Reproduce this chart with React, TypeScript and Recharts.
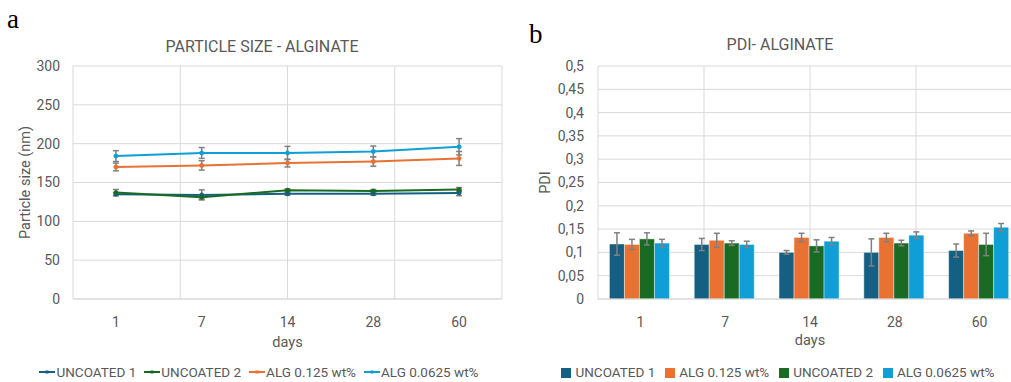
import React from "react";
import {
  LineChart,
  Line,
  BarChart,
  Bar,
  XAxis,
  YAxis,
  CartesianGrid,
  Legend,
  ErrorBar,
  Label,
} from "recharts";

// sampling days (shared by both panels)
const days = ["1", "7", "14", "28", "60"];

// panel a: particle size (nm) with +/- error
const uncoated1Size = [135, 134, 135.5, 135.5, 136.5];
const uncoated1SizeErr = [2, 6.5, 2, 2, 3.5];
const uncoated2Size = [137, 131, 140, 139, 141];
const uncoated2SizeErr = [4, 2.5, 2, 2, 2.5];
const alg125Size = [170, 172, 175, 177, 181];
const alg125SizeErr = [5, 6, 5, 6, 9];
const alg0625Size = [184, 188, 188, 190, 196];
const alg0625SizeErr = [7, 7, 8.5, 7, 10.5];

// panel b: PDI with +/- error
const uncoated1Pdi = [0.118, 0.117, 0.1, 0.1, 0.104];
const uncoated1PdiErr = [0.024, 0.013, 0.004, 0.029, 0.014];
const alg125Pdi = [0.117, 0.126, 0.132, 0.132, 0.141];
const alg125PdiErr = [0.011, 0.015, 0.009, 0.009, 0.005];
const uncoated2Pdi = [0.129, 0.12, 0.114, 0.12, 0.117];
const uncoated2PdiErr = [0.013, 0.005, 0.013, 0.006, 0.024];
const alg0625Pdi = [0.12, 0.117, 0.124, 0.137, 0.154];
const alg0625PdiErr = [0.008, 0.007, 0.008, 0.007, 0.008];

const sizeTicks = [0, 50, 100, 150, 200, 250, 300];
const pdiTicks = [0, 0.05, 0.1, 0.15, 0.2, 0.25, 0.3, 0.35, 0.4, 0.45, 0.5];

// legend order of each panel
const sizeOrder = ["UNCOATED 1", "UNCOATED 2", "ALG 0.125 wt%", "ALG 0.0625 wt%"];
const pdiOrder = ["UNCOATED 1", "ALG 0.125 wt%", "UNCOATED 2", "ALG 0.0625 wt%"];

const C_U1 = "#156082";
const C_U2 = "#196B24";
const C_A125 = "#E97132";
const C_A0625 = "#0F9ED5";
const GRID = "#d9d9d9";
const TEXT = "#595959";
const ERR = "#808080";

const sizeData = days.map((day, i) => ({
  day,
  u1: uncoated1Size[i],
  u1e: uncoated1SizeErr[i],
  u2: uncoated2Size[i],
  u2e: uncoated2SizeErr[i],
  a125: alg125Size[i],
  a125e: alg125SizeErr[i],
  a0625: alg0625Size[i],
  a0625e: alg0625SizeErr[i],
}));

const pdiData = days.map((day, i) => ({
  day,
  u1: uncoated1Pdi[i],
  u1e: uncoated1PdiErr[i],
  a125: alg125Pdi[i],
  a125e: alg125PdiErr[i],
  u2: uncoated2Pdi[i],
  u2e: uncoated2PdiErr[i],
  a0625: alg0625Pdi[i],
  a0625e: alg0625PdiErr[i],
}));

// category boundaries, used for the vertical gridlines
const bounds = [...days.map((_, i) => i), days.length];

const W = 510;
const H = 382;
const TOP = 66;
const BOTTOM = 299;
const LEGEND_H = 20;
const X_H = H - LEGEND_H - BOTTOM;
const A_YW = 73;
const B_YW = 78;
const RIGHT = 8;
const halfBand = (W - A_YW - RIGHT) / days.length / 2;

const tickStyle = { fill: TEXT, fontSize: 14 };
const pdiFmt = (v: number) => String(+v.toFixed(2)).replace(".", ",");

const LineLegend = (props: any) => (
  <div
    style={{
      display: "flex",
      justifyContent: "center",
      gap: 8,
      fontSize: 13.5,
      lineHeight: "20px",
      color: TEXT,
      paddingLeft: 16,
    }}
  >
    {(props.payload || []).map((p: any) => (
      <span key={p.value} style={{ display: "inline-flex", alignItems: "center" }}>
        <svg width={16} height={10} style={{ marginRight: 1 }}>
          <line x1={0} y1={5} x2={16} y2={5} stroke={p.color} strokeWidth={2} />
          <rect x={6.5} y={3.5} width={3} height={3} fill={p.color} />
        </svg>
        <span>{p.value}</span>
      </span>
    ))}
  </div>
);

function SizeChart() {
  const dot = (c: string) => ({ r: 2, fill: c, stroke: c, strokeWidth: 1 });
  return (
    <LineChart width={W} height={H} data={sizeData} margin={{ top: TOP, right: RIGHT, left: 0, bottom: 0 }}>
      <CartesianGrid stroke={GRID} xAxisId="grid" />
      <XAxis
        dataKey="day"
        padding={{ left: halfBand, right: halfBand }}
        height={X_H}
        axisLine={{ stroke: GRID }}
        tickLine={false}
        tickMargin={12}
        tick={tickStyle}
      >
        <Label value="days" position="insideBottom" offset={15} fill={TEXT} fontSize={14.5} />
      </XAxis>
      <XAxis xAxisId="grid" type="number" domain={[0, days.length]} ticks={bounds} hide />
      <YAxis
        domain={[0, 300]}
        ticks={sizeTicks}
        width={A_YW}
        axisLine={false}
        tickLine={false}
        tickMargin={7}
        tick={tickStyle}
      >
        <Label
          value="Particle size (nm)"
          angle={-90}
          position="insideLeft"
          offset={25}
          fill={TEXT}
          fontSize={14.5}
          style={{ textAnchor: "middle" }}
        />
      </YAxis>
      <Legend
        content={LineLegend}
        itemSorter={(item: any) => sizeOrder.indexOf(item.value)}
        wrapperStyle={{ height: LEGEND_H }}
      />
      <Line name="UNCOATED 1" dataKey="u1" stroke={C_U1} strokeWidth={2} dot={dot(C_U1)} isAnimationActive={false}>
        <ErrorBar dataKey="u1e" width={3} stroke={ERR} direction="y" />
      </Line>
      <Line name="UNCOATED 2" dataKey="u2" stroke={C_U2} strokeWidth={2} dot={dot(C_U2)} isAnimationActive={false}>
        <ErrorBar dataKey="u2e" width={3} stroke={ERR} direction="y" />
      </Line>
      <Line name="ALG 0.125 wt%" dataKey="a125" stroke={C_A125} strokeWidth={2} dot={dot(C_A125)} isAnimationActive={false}>
        <ErrorBar dataKey="a125e" width={3} stroke={ERR} direction="y" />
      </Line>
      <Line name="ALG 0.0625 wt%" dataKey="a0625" stroke={C_A0625} strokeWidth={2} dot={dot(C_A0625)} isAnimationActive={false}>
        <ErrorBar dataKey="a0625e" width={3} stroke={ERR} direction="y" />
      </Line>
    </LineChart>
  );
}

function PdiChart() {
  const legendText = (value: string) => <span style={{ color: TEXT }}>{value}</span>;
  return (
    <BarChart
      width={W}
      height={H}
      data={pdiData}
      margin={{ top: TOP, right: RIGHT, left: 0, bottom: 0 }}
      barCategoryGap="13.5%"
      barGap={0}
    >
      <CartesianGrid stroke={GRID} xAxisId="grid" />
      <XAxis dataKey="day" height={X_H} axisLine={{ stroke: GRID }} tickLine={false} tickMargin={12} tick={tickStyle}>
        <Label value="days" position="insideBottom" offset={17} fill={TEXT} fontSize={14.5} />
      </XAxis>
      <XAxis xAxisId="grid" type="number" domain={[0, days.length]} ticks={bounds} hide />
      <YAxis
        domain={[0, 0.5]}
        ticks={pdiTicks}
        tickFormatter={pdiFmt}
        width={B_YW}
        axisLine={false}
        tickLine={false}
        tickMargin={8}
        tick={tickStyle}
      >
        <Label
          value="PDI"
          angle={-90}
          position="insideLeft"
          offset={25}
          fill={TEXT}
          fontSize={14.5}
          style={{ textAnchor: "middle" }}
        />
      </YAxis>
      <Legend
        iconType="square"
        iconSize={10}
        formatter={legendText}
        itemSorter={(item: any) => pdiOrder.indexOf(item.value)}
        wrapperStyle={{ height: LEGEND_H, fontSize: 13.5, lineHeight: "20px", paddingLeft: 12 }}
      />
      <Bar name="UNCOATED 1" dataKey="u1" fill={C_U1} stroke="#ffffff" strokeOpacity={0.4} legendType="square" isAnimationActive={false}>
        <ErrorBar dataKey="u1e" width={3} stroke={ERR} direction="y" />
      </Bar>
      <Bar name="ALG 0.125 wt%" dataKey="a125" fill={C_A125} stroke="#ffffff" strokeOpacity={0.4} legendType="square" isAnimationActive={false}>
        <ErrorBar dataKey="a125e" width={3} stroke={ERR} direction="y" />
      </Bar>
      <Bar name="UNCOATED 2" dataKey="u2" fill={C_U2} stroke="#ffffff" strokeOpacity={0.4} legendType="square" isAnimationActive={false}>
        <ErrorBar dataKey="u2e" width={3} stroke={ERR} direction="y" />
      </Bar>
      <Bar name="ALG 0.0625 wt%" dataKey="a0625" fill={C_A0625} stroke="#ffffff" strokeOpacity={0.4} legendType="square" isAnimationActive={false}>
        <ErrorBar dataKey="a0625e" width={3} stroke={ERR} direction="y" />
      </Bar>
    </BarChart>
  );
}

export default function App() {
  const panelLetter: React.CSSProperties = {
    position: "absolute",
    fontFamily: "'Liberation Serif', serif",
    fontSize: 27,
    color: "#000",
  };
  const title: React.CSSProperties = {
    position: "absolute",
    width: 300,
    textAlign: "center",
    fontSize: 16,
    lineHeight: "18px",
    color: TEXT,
  };
  return (
    <div
      style={{
        position: "fixed",
        left: 0,
        top: 0,
        width: 1011,
        height: 382,
        overflow: "hidden",
        background: "#fff",
        fontFamily: "Roboto, sans-serif",
      }}
    >
      <div style={{ position: "absolute", left: 0, top: 0 }}>
        <SizeChart />
      </div>
      <div style={{ position: "absolute", left: 520, top: 0 }}>
        <PdiChart />
      </div>
      <div style={{ ...panelLetter, left: 7, top: 4 }}>a</div>
      <div style={{ ...panelLetter, left: 529, top: 19 }}>b</div>
      <div style={{ ...title, left: 262 - 150, top: 38 }}>PARTICLE SIZE - ALGINATE</div>
      <div style={{ ...title, left: 780 - 150, top: 36 }}>PDI- ALGINATE</div>
    </div>
  );
}
